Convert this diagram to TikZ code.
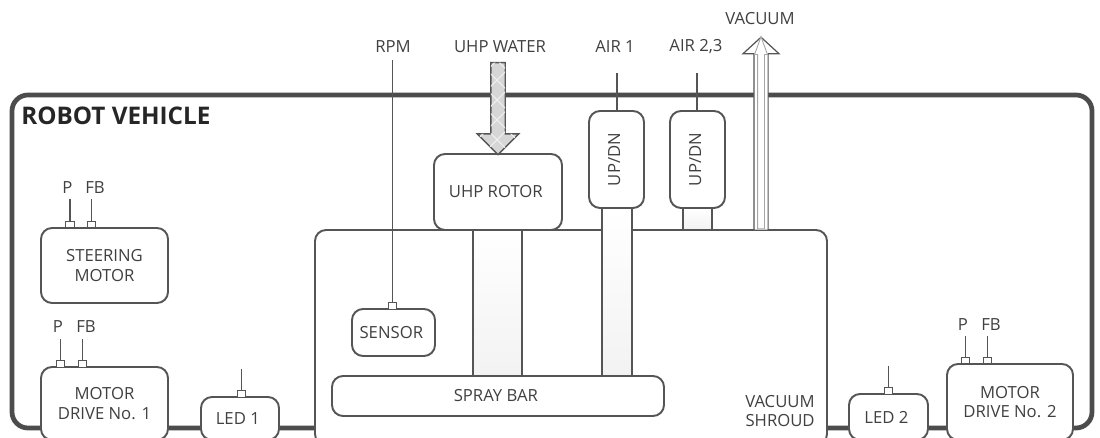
\documentclass[tikz,border=0pt]{standalone}
\usepackage{fontspec}
\setmainfont{Open Sans}
\usetikzlibrary{arrows,positioning,shapes,shapes.arrows,patterns,patterns.meta}
\usepackage{xcolor}
\definecolor{edge_gray}{HTML}{555555}
\definecolor{text_gray}{HTML}{404040}

\begin{document}
\begin{tikzpicture}[every node/.style={
    inner sep=0pt,
    text=text_gray,
    align=center,
    font=\fontsize{9.5}{11.2}\selectfont
},
box/.style={
    rectangle,
    rounded corners=0.22cm,
    draw=edge_gray,
    line width=1.1pt,
    fill=white
},
shaft/.style={
    rectangle,
    draw=edge_gray,
    line width=0.8pt,
    top color=white,
    bottom color=gray!10
},
port/.style={
    rectangle,
    draw=edge_gray,
    line width=0.7pt,
    fill=white,
    minimum width=0.17cm,
    minimum height=0.13cm
},
wire/.style={
    draw=edge_gray,
    line width=0.6pt
}]
    \clip (0, 0) rectangle (22, 8.76);

    \node (robot_vehicle) [rectangle, rounded corners=0.32cm, draw=black!70, line width=2.7pt, fill=white, minimum width=21.6cm, minimum height=6.66cm, shift={(11.04, 3.53)}] {};
    \node (robot_vehicle_label) [font=\fontsize{13.8}{15}\selectfont\bfseries, text=black!85, shift={(2.38, 6.44)}]
    {
        ROBOT VEHICLE
    };

    \node (vacuum_shroud) [box, minimum width=10.24cm, minimum height=4.3cm, shift={(11.42, 2.01)}] {};
    \node (vacuum_shroud_label) [align=right, anchor=east, shift={(16.3, 0.54)}]
    {
        VACUUM\\SHROUD
    };

    \node (rotor_shaft) [shaft, minimum width=0.98cm, minimum height=2.92cm, shift={(9.95, 2.7)}] {};
    \node (air1_shaft) [shaft, minimum width=0.6cm, minimum height=3.36cm, shift={(12.34, 2.92)}] {};
    \node (air23_shaft) [shaft, minimum width=0.58cm, minimum height=0.44cm, shift={(13.95, 4.38)}] {};

    \node (steering_motor) [box, minimum width=2.54cm, minimum height=1.5cm, shift={(2.09, 3.45)}]
    {
        STEERING\\MOTOR
    };
    \node (motor_drive_1) [box, minimum width=2.54cm, minimum height=1.46cm, shift={(2.09, 0.69)}]
    {
        MOTOR\\DRIVE No. 1
    };
    \node (motor_drive_2) [box, minimum width=2.52cm, minimum height=1.52cm, shift={(20.2, 0.72)}]
    {
        MOTOR\\DRIVE No. 2
    };
    \node (led_1) [box, minimum width=1.56cm, minimum height=0.86cm, shift={(4.8, 0.39)}]
    {
        LED 1
    };
    \node (led_2) [box, minimum width=1.58cm, minimum height=0.92cm, shift={(17.77, 0.42)}]
    {
        LED 2
    };
    \node (sensor) [box, minimum width=1.66cm, minimum height=0.94cm, shift={(7.87, 2.11)}]
    {
        SENSOR
    };
    \node (spray_bar) [box, minimum width=6.64cm, minimum height=0.8cm, shift={(9.96, 0.84)}]
    {
        SPRAY BAR
    };
    \node (uhp_rotor) [box, minimum width=2.56cm, minimum height=1.52cm, shift={(9.96, 4.92)}]
    {
        UHP ROTOR
    };
    \node (up_dn_1) [box, minimum width=1.1cm, minimum height=1.94cm, shift={(12.33, 5.57)}]
    {
        \rotatebox{90}{UP/DN}
    };
    \node (up_dn_2) [box, minimum width=1.1cm, minimum height=1.94cm, shift={(13.95, 5.57)}]
    {
        \rotatebox{90}{UP/DN}
    };

    \node (steering_p_port) [port, shift={(1.4, 4.27)}] {};
    \node (steering_fb_port) [port, shift={(1.83, 4.27)}] {};
    \node (drive1_p_port) [port, shift={(1.21, 1.48)}] {};
    \node (drive1_fb_port) [port, shift={(1.65, 1.48)}] {};
    \node (drive2_p_port) [port, shift={(19.31, 1.55)}] {};
    \node (drive2_fb_port) [port, shift={(19.75, 1.55)}] {};
    \node (led1_port) [port, shift={(4.83, 0.88)}] {};
    \node (led2_port) [port, shift={(17.77, 0.94)}] {};
    \node (sensor_port) [port, shift={(7.85, 2.64)}] {};

    \node (steering_p_label) [shift={(1.35, 5)}] {P};
    \node (steering_fb_label) [shift={(1.9, 5)}] {FB};
    \node (drive1_p_label) [shift={(1.16, 2.22)}] {P};
    \node (drive1_fb_label) [shift={(1.72, 2.22)}] {FB};
    \node (drive2_p_label) [shift={(19.26, 2.26)}] {P};
    \node (drive2_fb_label) [shift={(19.82, 2.26)}] {FB};
    \node (rpm_label) [shift={(7.86, 7.82)}] {RPM};
    \node (uhp_water_label) [shift={(10, 7.82)}] {UHP WATER};
    \node (air1_label) [shift={(12.3, 7.82)}] {AIR 1};
    \node (air23_label) [shift={(13.92, 7.82)}] {AIR 2,3};
    \node (vacuum_label) [shift={(15.2, 8.38)}] {VACUUM};

    \coordinate (steering_p_end) at (1.4, 4.78);
    \coordinate (steering_fb_end) at (1.83, 4.78);
    \coordinate (drive1_p_end) at (1.21, 1.98);
    \coordinate (drive1_fb_end) at (1.65, 1.98);
    \coordinate (drive2_p_end) at (19.31, 2.04);
    \coordinate (drive2_fb_end) at (19.75, 2.04);
    \coordinate (led1_end) at (4.83, 1.38);
    \coordinate (led2_end) at (17.77, 1.44);
    \coordinate (rpm_end) at (7.85, 7.56);
    \coordinate (air1_end) at (12.34, 7.3);
    \coordinate (air23_end) at (13.94, 7.3);

    \draw[wire] (steering_p_end) to (steering_p_port);
    \draw[wire] (steering_fb_end) to (steering_fb_port);
    \draw[wire] (drive1_p_end) to (drive1_p_port);
    \draw[wire] (drive1_fb_end) to (drive1_fb_port);
    \draw[wire] (drive2_p_end) to (drive2_p_port);
    \draw[wire] (drive2_fb_end) to (drive2_fb_port);
    \draw[wire] (led1_end) to (led1_port);
    \draw[wire] (led2_end) to (led2_port);
    \draw[wire] (rpm_end) to (sensor_port);
    \draw[wire] (air1_end) to (up_dn_1.north -| air1_end);
    \draw[wire] (air23_end) to (up_dn_2.north -| air23_end);

    \node (water_arrow) [single arrow, shape border rotate=270, draw=edge_gray, line width=0.8pt, fill=gray!32, postaction={pattern={Hatch[angle=45, distance=8pt, line width=0.6pt]}, pattern color=gray!12}, inner sep=0.13cm, minimum height=1.84cm, single arrow head extend=0.27cm, single arrow tip angle=90, shift={(9.96, 6.66)}] {};
    \node (vacuum_arrow) [single arrow, shape border rotate=90, draw=edge_gray, line width=0.7pt, fill=white, inner sep=0.13cm, minimum height=3.86cm, single arrow head extend=0.22cm, single arrow tip angle=95, shift={(15.22, 6.02)}] {};
    \node (vacuum_arrow_inner) [single arrow, shape border rotate=90, draw=gray!70, line width=0.5pt, fill=white, inner sep=0.06cm, minimum height=3.84cm, single arrow head extend=0.06cm, single arrow tip angle=40, shift={(15.22, 6.01)}] {};
\end{tikzpicture}
\end{document}
